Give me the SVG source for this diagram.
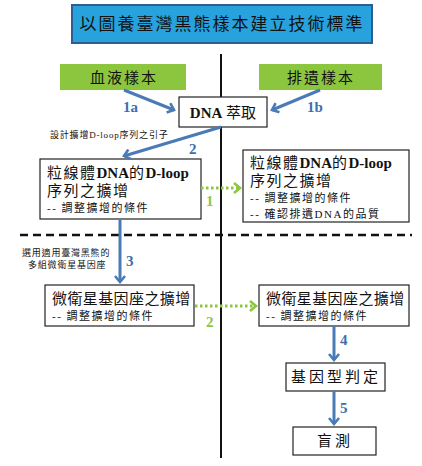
<svg xmlns="http://www.w3.org/2000/svg" width="422" height="466" viewBox="0 0 422 466">
<style>
.box{fill:#fff;stroke:#222;stroke-width:1.2}
.t{font-family:"Liberation Serif","Noto Sans CJK TC",serif;fill:#111}
.m{font-size:15px;letter-spacing:1.5px}
.s{font-size:11px;letter-spacing:1.5px}
.b{font-weight:bold}
.blue{stroke:#4a7bb7;stroke-width:3;fill:none}
.green{stroke:#8dc63f;stroke-width:3;fill:none;stroke-dasharray:2.5 2.5}
.nb{font-family:"Liberation Serif",serif;font-weight:bold;font-size:15px;fill:#3d6fae}
.ng{font-family:"Liberation Serif",serif;font-weight:bold;font-size:15px;fill:#8dc63f}
</style>
<defs>
<marker id="ab" markerWidth="10" markerHeight="12" refX="7" refY="6" orient="auto" markerUnits="userSpaceOnUse">
<path d="M1,1 L7,6 L1,11" fill="none" stroke="#4a7bb7" stroke-width="2.6"/>
</marker>
<marker id="ag" markerWidth="10" markerHeight="12" refX="7" refY="6" orient="auto" markerUnits="userSpaceOnUse">
<path d="M1,1 L7,6 L1,11" fill="none" stroke="#8dc63f" stroke-width="2.6"/>
</marker>
</defs>
<rect width="422" height="466" fill="#fff"/>
<g id="lines">
<line x1="221" y1="54" x2="221" y2="458" stroke="#111" stroke-width="2"/>
<line x1="20" y1="235" x2="412" y2="235" stroke="#111" stroke-width="2.5" stroke-dasharray="8 5"/>
</g>
<g id="title">
<rect x="72" y="5" width="300" height="38" fill="#27a2dc" stroke="#2c5f8e" stroke-width="2"/>
<text class="t" x="222" y="30" font-size="17" letter-spacing="2" text-anchor="middle">以圖養臺灣黑熊樣本建立技術標準</text>
</g>
<g id="blood">
<rect x="60" y="64" width="126" height="26" fill="#8cc63e"/>
<text class="t" x="124" y="83" font-size="15" letter-spacing="2" text-anchor="middle">血液樣本</text>
</g>
<g id="feces">
<rect x="259" y="64" width="123" height="26" fill="#8cc63e"/>
<text class="t" x="321" y="83" font-size="15" letter-spacing="2" text-anchor="middle">排遺樣本</text>
</g>
<g id="dna">
<rect class="box" x="179" y="97" width="88" height="30"/>
<text class="t" x="223" y="118" font-size="15" text-anchor="middle"><tspan class="b">DNA</tspan> 萃取</text>
</g>
<g id="dloop1">
<rect class="box" x="40" y="159" width="161" height="60"/>
<text class="t m" x="47" y="178">粒線體<tspan class="b" letter-spacing="0">DNA</tspan>的<tspan class="b" letter-spacing="0">D-loop</tspan></text>
<text class="t m" x="47" y="196">序列之擴增</text>
<text class="t s" x="47" y="212">-- 調整擴增的條件</text>
</g>
<g id="dloop2">
<rect class="box" x="243" y="150" width="166" height="72"/>
<text class="t m" x="250" y="168">粒線體<tspan class="b" letter-spacing="0">DNA</tspan>的<tspan class="b" letter-spacing="0">D-loop</tspan></text>
<text class="t m" x="250" y="186">序列之擴增</text>
<text class="t s" x="250" y="202">-- 調整擴增的條件</text>
<text class="t s" x="250" y="218">-- 確認排遺DNA的品質</text>
</g>
<g id="ms1">
<rect class="box" x="45" y="285" width="149" height="41"/>
<text class="t" x="52" y="304" font-size="15" letter-spacing="0.4">微衛星基因座之擴增</text>
<text class="t s" x="52" y="320">-- 調整擴增的條件</text>
</g>
<g id="ms2">
<rect class="box" x="259" y="285" width="150" height="41"/>
<text class="t" x="266" y="304" font-size="15" letter-spacing="0.4">微衛星基因座之擴增</text>
<text class="t s" x="266" y="320">-- 調整擴增的條件</text>
</g>
<g id="geno">
<rect class="box" x="286" y="363" width="99" height="28"/>
<text class="t" x="336" y="382" font-size="15" letter-spacing="3" text-anchor="middle">基因型判定</text>
</g>
<g id="blind">
<rect class="box" x="293" y="427" width="83" height="28"/>
<text class="t" x="335" y="446" font-size="15" letter-spacing="3" text-anchor="middle">盲測</text>
</g>
<g id="connectors">
<line class="blue" x1="124" y1="90" x2="174" y2="110" marker-end="url(#ab)"/>
<line class="blue" x1="320" y1="90" x2="272" y2="110" marker-end="url(#ab)"/>
<line class="blue" x1="221" y1="127" x2="124" y2="156" marker-end="url(#ab)"/>
<line class="green" x1="201" y1="188" x2="240" y2="188" marker-end="url(#ag)"/>
<line class="blue" x1="120" y1="219" x2="120" y2="282" marker-end="url(#ab)"/>
<line class="green" x1="195" y1="306" x2="256" y2="306" marker-end="url(#ag)"/>
<line class="blue" x1="334" y1="326" x2="334" y2="360" marker-end="url(#ab)"/>
<line class="blue" x1="334" y1="391" x2="334" y2="424" marker-end="url(#ab)"/>
<text class="nb" x="123" y="112">1a</text>
<text class="nb" x="307" y="112">1b</text>
<text class="nb" x="189" y="154">2</text>
<text class="ng" x="206" y="206">1</text>
<text class="nb" x="126" y="266">3</text>
<text class="ng" x="206" y="327">2</text>
<text class="nb" x="340" y="345">4</text>
<text class="nb" x="340" y="413">5</text>
<text class="t" x="50" y="138" font-size="9" letter-spacing="0.8">設計擴增D-loop序列之引子</text>
<text class="t" x="22" y="256" font-size="9" letter-spacing="0.8">選用適用臺灣黑熊的</text>
<text class="t" x="28" y="268" font-size="9" letter-spacing="0.8">多組微衛星基因座</text>
</g>
</svg>
